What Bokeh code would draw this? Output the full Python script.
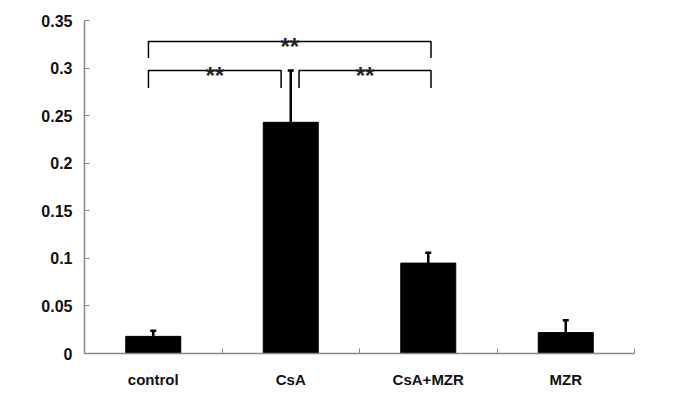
from bokeh.plotting import figure
from bokeh.models import (ColumnDataSource, FixedTicker, NumeralTickFormatter, Whisker, TeeHead,
                          Range1d)
from bokeh.core.properties import value
from bokeh.embed import file_html
from bokeh.resources import INLINE

# ---- data ----
categories = ["control", "CsA", "CsA+MZR", "MZR"]
means = [0.018, 0.243, 0.095, 0.022]
errors = [0.006, 0.0545, 0.011, 0.013]
y_ticks = [0, 0.05, 0.1, 0.15, 0.2, 0.25, 0.3, 0.35]

# significance brackets: (left category, right category, bar height, leg bottom, label)
bracket_left = ["control", "control", "CsA"]
bracket_right = ["CsA+MZR", "CsA", "CsA+MZR"]
bracket_top = [0.328, 0.2975, 0.2975]
bracket_leg = [0.3105, 0.279, 0.279]
bracket_label = ["**", "**", "**"]
# small horizontal offsets of the bracket ends from category centres (styling)
bracket_left_off = [-0.035, -0.035, 0.06]
bracket_right_off = [0.02, -0.07, 0.02]

FONT = "Liberation Sans"

idx = {c: i + 0.5 for i, c in enumerate(categories)}
xs_c = [idx[c] for c in categories]

p = figure(width=667, height=392, output_backend="svg", toolbar_location=None,
           x_range=Range1d(0, len(categories)), y_range=Range1d(0, 0.35),
           min_border_left=84, min_border_top=20, min_border_right=33, min_border_bottom=39)
p.outline_line_color = None
p.xgrid.visible = False
p.ygrid.visible = False
p.background_fill_color = "white"
p.border_fill_color = "white"

src = ColumnDataSource(dict(x=xs_c, top=means, upper=[m + e for m, e in zip(means, errors)]))
p.vbar(x="x", top="top", bottom=0, width=0.4, source=src, fill_color="black", line_color="black")

wh = Whisker(source=src, base="x", lower="top", upper="upper", line_color="black", line_width=2.5,
             upper_head=TeeHead(size=6, line_width=2.5, line_color="black"), lower_head=None)
p.add_layout(wh)

# brackets
bx, by = [], []
tx, ty = [], []
for l, r, t, lg, lo, ro in zip(bracket_left, bracket_right, bracket_top, bracket_leg,
                               bracket_left_off, bracket_right_off):
    x0 = idx[l] + lo
    x1 = idx[r] + ro
    bx.append([x0, x0, x1, x1])
    by.append([lg, t, t, lg])
    tx.append((x0 + x1) / 2)
    ty.append(t)
p.multi_line(xs=bx, ys=by, line_color="black", line_width=1.5)
p.text(x=tx, y=ty, text=bracket_label, text_align="center", text_baseline="alphabetic",
       y_offset=5, text_font=value(FONT), text_font_style="bold", text_font_size="24px",
       text_color="#222222")

# x axis
xa = p.xaxis[0]
xa.ticker = FixedTicker(ticks=xs_c, minor_ticks=list(range(len(categories) + 1)))
xa.major_label_overrides = {x: c for x, c in zip(xs_c, categories)}
xa.major_tick_in = 0
xa.major_tick_out = 0
xa.minor_tick_in = 5
xa.minor_tick_out = 0
xa.minor_tick_line_color = "#888888"
xa.axis_line_color = "#888888"
xa.axis_line_width = 1.5
xa.major_label_text_font = FONT
xa.major_label_text_font_style = "bold"
xa.major_label_text_font_size = "15px"
xa.major_label_text_color = "#111111"
xa.major_label_standoff = 17

# y axis
ya = p.yaxis[0]
ya.ticker = FixedTicker(ticks=y_ticks)
ya.formatter = NumeralTickFormatter(format="0.[00]")
ya.major_tick_in = 5
ya.major_tick_out = 0
ya.minor_tick_line_color = None
ya.major_tick_line_color = "#888888"
ya.axis_line_color = "#888888"
ya.axis_line_width = 1.5
ya.major_label_text_font = FONT
ya.major_label_text_font_style = "bold"
ya.major_label_text_font_size = "16px"
ya.major_label_text_color = "#111111"
ya.major_label_standoff = 12

open("out.html", "w").write(file_html(p, INLINE))
